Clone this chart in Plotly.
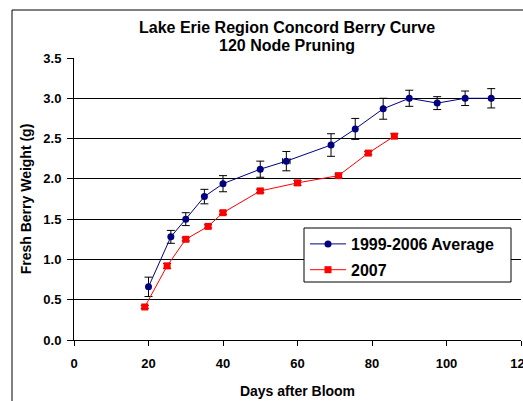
import plotly.graph_objects as go

# ---- data ----
days_avg = [20, 26, 30, 35, 40, 50, 57, 69, 75.5, 83, 90, 97.5, 105, 112]
weight_avg = [0.66, 1.28, 1.50, 1.78, 1.94, 2.12, 2.22, 2.42, 2.62, 2.87, 3.00, 2.94, 3.00, 3.00]
err_avg = [0.12, 0.08, 0.08, 0.09, 0.10, 0.10, 0.12, 0.14, 0.13, 0.13, 0.10, 0.08, 0.09, 0.12]
errx_avg = [0, 0, 0, 0, 0, 0, 1, 0, 0, 0, 0, 0, 0, 0]

days_2007 = [19, 25, 30, 36, 40, 50, 60, 71, 79, 86]
weight_2007 = [0.41, 0.92, 1.25, 1.41, 1.58, 1.85, 1.95, 2.04, 2.32, 2.53]
err_2007 = [0.02, 0.03, 0.02, 0.02, 0.02, 0.02, 0.03, 0.02, 0.02, 0.03]

x_ticks = [0, 20, 40, 60, 80, 100, 120]
y_ticks = [0.0, 0.5, 1.0, 1.5, 2.0, 2.5, 3.0, 3.5]

title_lines = ["Lake Erie Region Concord Berry Curve", "120 Node Pruning"]

FONT = "Arial, Liberation Sans, sans-serif"

fig = go.Figure()
fig.add_trace(go.Scatter(
    x=days_avg, y=weight_avg, name="1999-2006 Average", mode="lines+markers",
    legendgroup="a",
    line=dict(color="#000080", width=1),
    marker=dict(symbol="circle", size=7, color="#000080"),
    error_y=dict(type="data", array=err_avg, color="black", thickness=1, width=4),
    error_x=dict(type="data", array=errx_avg, color="black", thickness=1, width=3),
))
fig.add_trace(go.Scatter(
    x=days_2007, y=weight_2007, name="2007", mode="lines+markers",
    legendgroup="b",
    line=dict(color="#FF0000", width=1),
    marker=dict(symbol="square", size=7, color="#FF0000"),
    error_y=dict(type="data", array=err_2007, color="black", thickness=1, width=4),
))

L, R, T, B = 74, 2, 58, 61
W, H = 523, 401
pw, ph = W - L - R, H - T - B


def py(pixel_y):
    return (H - B - pixel_y) / ph


def px(pixel_x):
    return (pixel_x - L) / pw


annotations = [
    dict(text=title_lines[0], xref="paper", yref="paper", x=px(286.5), y=py(27.5),
         xanchor="center", yanchor="middle", showarrow=False,
         font=dict(size=16, weight="bold", family=FONT, color="black")),
    dict(text=title_lines[1], xref="paper", yref="paper", x=px(286.5), y=py(46),
         xanchor="center", yanchor="middle", showarrow=False,
         font=dict(size=16, weight="bold", family=FONT, color="black")),
]

shapes = [
    # outer chart-area border
    dict(type="rect", xref="paper", yref="paper",
         x0=px(12), x1=px(W + 40), y0=py(H + 20), y1=py(10),
         line=dict(color="black", width=1), fillcolor="rgba(0,0,0,0)", layer="below"),
    # legend frame
    dict(type="rect", xref="paper", yref="paper",
         x0=px(304), x1=px(511), y0=py(282), y1=py(228),
         line=dict(color="black", width=1), fillcolor="white", layer="above"),
]

fig.update_layout(
    width=W, height=H,
    margin=dict(l=L, r=R, t=T, b=B, pad=0, autoexpand=False),
    paper_bgcolor="white", plot_bgcolor="white",
    font=dict(family=FONT, color="black"),
    annotations=annotations,
    shapes=shapes,
    legend=dict(
        x=px(305), y=py(227), xanchor="left", yanchor="top",
        bgcolor="rgba(0,0,0,0)", borderwidth=0,
        font=dict(size=16, weight="bold", family=FONT),
        tracegroupgap=2, itemwidth=36,
    ),
    showlegend=True,
)

fig.update_xaxes(
    range=[0, 120], tickvals=x_ticks, ticktext=[str(v) for v in x_ticks],
    showgrid=False, zeroline=False, automargin=False,
    showline=True, linecolor="black", linewidth=1,
    ticks="outside", ticklen=5, tickcolor="black", tickwidth=1,
    tickfont=dict(size=13, weight="bold", family=FONT),
    ticklabelstandoff=6, ticklabeloverflow="allow",
    title=dict(text="Days after Bloom", font=dict(size=14, weight="bold", family=FONT), standoff=16),
)
fig.update_yaxes(
    range=[0, 3.5], tickvals=y_ticks, ticktext=[f"{v:.1f}" for v in y_ticks],
    showgrid=True, gridcolor="black", gridwidth=1, zeroline=False, automargin=False,
    showline=True, linecolor="black", linewidth=1,
    ticks="outside", ticklen=6, tickcolor="black", tickwidth=1,
    tickfont=dict(size=13, weight="bold", family=FONT),
    ticklabelstandoff=3,
    title=dict(text="Fresh Berry Weight (g)", font=dict(size=14, weight="bold", family=FONT), standoff=8),
)

fig.write_html(
    "out.html",
    config={"displayModeBar": False},
    post_script="document.body.style.margin='0';document.body.style.overflow='hidden';",
)
